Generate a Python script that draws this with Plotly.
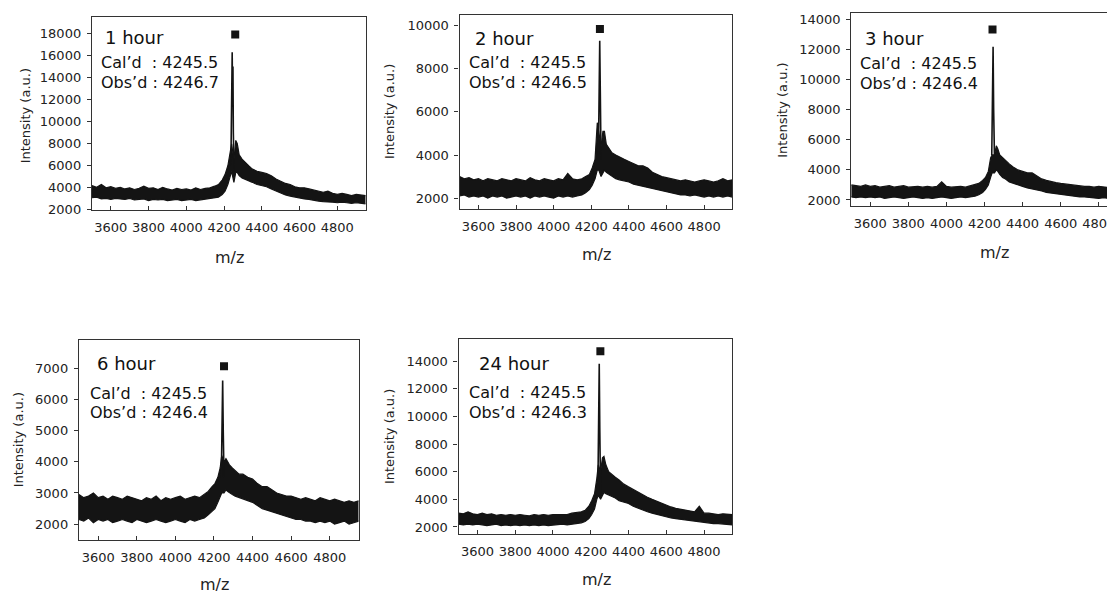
import plotly.graph_objects as go

# ---------------- data ----------------
MZ = [3500, 3525, 3550, 3575, 3600, 3625, 3650, 3675, 3700, 3725, 3750, 3775, 3800, 3825,
      3850, 3875, 3900, 3925, 3950, 3975, 4000, 4025, 4050, 4075, 4100, 4125, 4150, 4170,
      4190, 4205, 4220, 4232, 4240, 4252, 4262, 4270, 4280, 4295, 4310, 4330, 4350, 4375,
      4400, 4425, 4450, 4475, 4500, 4525, 4550, 4575, 4600, 4625, 4650, 4675, 4700, 4725,
      4750, 4775, 4800, 4825, 4850, 4875, 4900, 4925, 4950]

HI_1H = [4200, 4050, 4300, 4000, 4100, 3950, 4050, 3900, 4000, 3850, 3950, 4150, 3950, 4000,
         3850, 4050, 3900, 3800, 3950, 3850, 3900, 3800, 4000, 3850, 3950, 4000, 4150, 4300,
         4700, 5200, 6000, 7200, 8000, 6500, 8300, 8000, 7000, 6600, 6300, 6000, 5700, 5500,
         5400, 5300, 5100, 4800, 4600, 4400, 4300, 4100, 4000, 4000, 3900, 3800, 3700, 3600,
         3700, 3500, 3400, 3500, 3400, 3300, 3400, 3350, 3300]
LO_1H = [3100, 3150, 3000, 3050, 2950, 3050, 3000, 2950, 3050, 2900, 2950, 3000, 2850, 2950,
         2900, 2950, 2850, 2900, 2950, 2850, 2900, 2950, 2850, 2900, 2950, 3000, 3050, 3150,
         3400, 3700, 4300, 5000, 5500, 4500, 5400, 5400, 5100, 4900, 4800, 4700, 4500, 4300,
         4200, 4100, 3900, 3700, 3500, 3350, 3250, 3150, 3050, 3000, 2950, 2850, 2800, 2750,
         2750, 2700, 2650, 2700, 2650, 2600, 2650, 2600, 2550]

HI_2H = [3000, 2900, 2950, 2850, 2900, 2800, 2900, 2850, 2800, 2900, 2850, 2800, 2900, 2850,
         2800, 2950, 2850, 2800, 2900, 2850, 2800, 2900, 2850, 3150, 2900, 2850, 2900, 3000,
         3100, 3400, 3800, 5500, 5000, 4400, 5100, 5100, 4500, 4300, 4100, 4000, 3900, 3800,
         3700, 3600, 3500, 3500, 3400, 3200, 3100, 3000, 2950, 2900, 2850, 2800, 2850, 2800,
         2750, 2800, 2850, 2800, 2750, 2800, 2900, 2800, 2850]
LO_2H = [2100, 2150, 2050, 2100, 2050, 2100, 2000, 2100, 2050, 2100, 2000, 2050, 2100, 2050,
         2100, 2000, 2100, 2050, 2100, 2050, 2000, 2100, 2050, 2100, 2050, 2100, 2150, 2250,
         2400, 2600, 2900, 3300, 3300, 3000, 3200, 3300, 3200, 3100, 3000, 2900, 2850, 2800,
         2750, 2650, 2600, 2550, 2500, 2450, 2400, 2350, 2300, 2250, 2200, 2150, 2150, 2100,
         2150, 2100, 2050, 2100, 2050, 2100, 2050, 2100, 2050]

HI_3H = [3000, 2950, 2900, 3000, 2900, 2950, 2850, 2900, 2950, 2850, 2900, 2950, 2850, 2900,
         2900, 2850, 2900, 2850, 2900, 3200, 2900, 2850, 2900, 2900, 2850, 2950, 3000, 3100,
         3300, 3500, 3900, 4800, 5000, 5000, 5600, 5400, 5000, 4800, 4600, 4400, 4200, 4000,
         3900, 3800, 3800, 3600, 3400, 3300, 3200, 3150, 3100, 3050, 3000, 2950, 2950, 2900,
         2900, 2850, 2900, 2850, 2850, 2800, 2800, 2800, 2800]
LO_3H = [2200, 2150, 2200, 2150, 2200, 2150, 2200, 2100, 2150, 2200, 2150, 2100, 2150, 2200,
         2150, 2100, 2150, 2100, 2150, 2200, 2150, 2100, 2150, 2200, 2150, 2200, 2250, 2350,
         2500, 2700, 3000, 3500, 3800, 3800, 4000, 3900, 3700, 3500, 3400, 3200, 3100, 3000,
         2900, 2800, 2750, 2650, 2600, 2500, 2450, 2400, 2350, 2300, 2300, 2250, 2200, 2200,
         2150, 2150, 2100, 2150, 2100, 2050, 2100, 2050, 2050]

HI_6H = [2950, 2850, 2900, 3000, 2850, 2900, 2800, 2900, 2850, 2800, 2900, 2850, 2800, 2750,
         2850, 2800, 2900, 2750, 2850, 2800, 2850, 2900, 2800, 2850, 2900, 2850, 2950, 3050,
         3200, 3300, 3500, 3800, 4200, 4000, 4100, 4000, 3900, 3800, 3700, 3600, 3600, 3500,
         3450, 3300, 3200, 3200, 3100, 3000, 2950, 2900, 2900, 2850, 2800, 2850, 2800, 2750,
         2850, 2800, 2750, 2800, 2750, 2700, 2750, 2700, 2750]
LO_6H = [2150, 2100, 2200, 2050, 2150, 2100, 2150, 2050, 2100, 2150, 2100, 2050, 2150, 2100,
         2050, 2100, 2150, 2100, 2050, 2100, 2150, 2100, 2050, 2150, 2100, 2150, 2200, 2300,
         2400, 2500, 2700, 2900, 3000, 3000, 3100, 3050, 3000, 2950, 2900, 2850, 2800, 2750,
         2700, 2600, 2500, 2450, 2400, 2350, 2300, 2250, 2200, 2150, 2150, 2100, 2100, 2050,
         2100, 2050, 2100, 2000, 2050, 2100, 2000, 2050, 2100]

HI_24H = [3000, 2950, 3100, 2950, 2900, 3000, 2900, 2950, 2850, 2900, 2850, 2900, 2850, 2900,
          2850, 2800, 2900, 2850, 2900, 2850, 2900, 2900, 2950, 2900, 3000, 3050, 3100, 3200,
          3500, 3900, 4400, 5500, 6500, 6000, 7000, 7100, 6500, 6000, 5800, 5600, 5400, 5100,
          4900, 4700, 4500, 4300, 4150, 4000, 3850, 3700, 3600, 3450, 3350, 3300, 3200, 3150,
          3100, 3500, 3000, 3000, 2950, 2900, 2950, 2900, 2900]
LO_24H = [2200, 2150, 2200, 2150, 2200, 2150, 2100, 2150, 2200, 2100, 2150, 2100, 2150, 2100,
          2150, 2100, 2150, 2100, 2150, 2100, 2150, 2150, 2200, 2150, 2200, 2250, 2300, 2400,
          2600, 2900, 3300, 4000, 4300, 4000, 4300, 4500, 4400, 4300, 4200, 4100, 3900, 3800,
          3700, 3500, 3350, 3200, 3100, 3000, 2900, 2800, 2750, 2650, 2600, 2550, 2500, 2450,
          2400, 2400, 2350, 2300, 2250, 2250, 2200, 2200, 2150]

# sharp main peak of each spectrum
SPIKE_MZ_1H = [4236, 4243, 4245, 4247, 4249, 4253]
SPIKE_I_1H = [6000, 16300, 12000, 15000, 9000, 5500]
SPIKE_MZ = [4238, 4245, 4248, 4252]
SPIKE_I_2H = [4000, 9300, 7000, 3800]
SPIKE_I_3H = [5000, 12200, 8000, 5000]
SPIKE_I_6H = [3500, 6600, 5000, 3500]
SPIKE_I_24H = [5000, 13800, 9000, 4500]

# peak marker (black square) positions
MARK_MZ = [4259, 4246, 4242, 4252, 4251]
MARK_I = [17900, 9850, 13350, 7060, 14700]

LABELS = ["1 hour", "2 hour", "3 hour", "6 hour", "24 hour"]
CALD = ["4245.5", "4245.5", "4245.5", "4245.5", "4245.5"]
OBSD = ["4246.7", "4246.5", "4246.4", "4246.4", "4246.3"]

Y_RANGES = [[2000, 19500], [1500, 10500], [1600, 14450], [1500, 7900], [1500, 15600]]
Y_DTICK = [2000, 2000, 2000, 1000, 2000]
X_RANGES = [[3500, 4950], [3500, 4950], [3500, 4880], [3500, 4950], [3500, 4950]]
X_TICKS = [3600, 3800, 4000, 4200, 4400, 4600, 4800]

# ---------------- layout geometry (screen pixels) ----------------
OFF = 8                      # page body margin of the html page
W, H = 1115 - OFF, 601 - OFF
BOXES = [(92, 366, 16, 212), (460, 733, 14, 211), (852, 1115, 12, 208),
         (79, 359, 344, 547), (459, 733, 343, 541)]
TXT = [  # (title_x, title_y, info_x, cal_y, obs_y)
    (103, 37, 99, 62, 83),
    (473, 38, 467, 62, 83),
    (864, 38, 859, 63, 84),
    (95, 368, 88, 398, 418),
    (477, 368, 467, 397, 418),
]
YT_POS = [(25, 116), (390, 112), (783, 111), (18, 445), (390, 442)]
XT_POS = [(230, 260), (597, 257), (995, 255), (215, 592), (597, 587)]

FONT = "DejaVu Sans, Arial, sans-serif"
INK = "#141414"
AX = "#333333"

HIS = [HI_1H, HI_2H, HI_3H, HI_6H, HI_24H]
LOS = [LO_1H, LO_2H, LO_3H, LO_6H, LO_24H]
SPX = [SPIKE_MZ_1H, SPIKE_MZ, SPIKE_MZ, SPIKE_MZ, SPIKE_MZ]
SPY = [SPIKE_I_1H, SPIKE_I_2H, SPIKE_I_3H, SPIKE_I_6H, SPIKE_I_24H]

fig = go.Figure()
annotations = []
layout = {}

def px(x):
    return min(max((x - OFF) / W, 0.0), 1.0)

def py(y):
    return min(max(1 - (y - OFF) / H, 0.0), 1.0)

for i in range(5):
    n = "" if i == 0 else str(i + 1)
    xa, ya = "x" + n, "y" + n
    x0, x1, y0, y1 = BOXES[i]
    fig.add_trace(go.Scatter(x=MZ, y=LOS[i], mode="lines", xaxis=xa, yaxis=ya,
                             line=dict(color=INK, width=1.2), showlegend=False,
                             hoverinfo="skip"))
    fig.add_trace(go.Scatter(x=MZ, y=HIS[i], mode="lines", xaxis=xa, yaxis=ya,
                             line=dict(color=INK, width=1.2), fill="tonexty",
                             fillcolor=INK, showlegend=False, hoverinfo="skip"))
    fig.add_trace(go.Scatter(x=SPX[i], y=SPY[i], mode="lines", xaxis=xa, yaxis=ya,
                             line=dict(color=INK, width=1.6), showlegend=False))
    fig.add_trace(go.Scatter(x=[MARK_MZ[i]], y=[MARK_I[i]], mode="markers",
                             xaxis=xa, yaxis=ya, showlegend=False,
                             marker=dict(symbol="square", size=8, color=INK)))
    layout["xaxis" + n] = dict(
        domain=[px(x0), px(x1)], range=X_RANGES[i], anchor=ya,
        tickvals=X_TICKS, ticks="inside", ticklen=4, tickwidth=1, tickcolor=AX,
        showline=True, linecolor=AX, linewidth=1.3, mirror=True,
        showgrid=False, zeroline=False, ticklabelstandoff=5,
        ticklabeloverflow="allow",
        tickfont=dict(family=FONT, size=13, color="#222"))
    layout["yaxis" + n] = dict(
        domain=[py(y1), py(y0)], range=Y_RANGES[i], anchor=xa,
        dtick=Y_DTICK[i], tick0=0, tickformat="d", ticks="outside", ticklen=4,
        tickwidth=1, tickcolor=AX,
        showline=True, linecolor=AX, linewidth=1.3, mirror=(i != 2),
        showgrid=False, zeroline=False, ticklabelstandoff=3,
        tickfont=dict(family=FONT, size=13, color="#222"))
    tx, ty, ix, cy, oy = TXT[i]
    annotations.append(dict(x=px(tx), y=py(ty), xref="paper", yref="paper",
                            text=LABELS[i], showarrow=False, xanchor="left", yanchor="middle",
                            font=dict(family=FONT, size=18, color="#111")))
    annotations.append(dict(x=px(ix), y=py(cy), xref="paper", yref="paper",
                            text="Cal’d\u00a0\u00a0: " + CALD[i], showarrow=False,
                            xanchor="left", yanchor="middle",
                            font=dict(family=FONT, size=16, color="#111")))
    annotations.append(dict(x=px(ix), y=py(oy), xref="paper", yref="paper",
                            text="Obs’d : " + OBSD[i], showarrow=False,
                            xanchor="left", yanchor="middle",
                            font=dict(family=FONT, size=16, color="#111")))
    ax_, ay_ = YT_POS[i]
    annotations.append(dict(x=px(ax_), y=py(ay_), xref="paper", yref="paper",
                            text="Intensity (a.u.)", showarrow=False, textangle=-90,
                            xanchor="center", yanchor="middle",
                            font=dict(family=FONT, size=13, color="#222")))
    mx, my = XT_POS[i]
    annotations.append(dict(x=px(mx), y=py(my), xref="paper", yref="paper",
                            text="m/z", showarrow=False, xanchor="center", yanchor="middle",
                            font=dict(family=FONT, size=16, color="#222")))

fig.update_layout(width=W, height=H, margin=dict(l=0, r=0, t=0, b=0),
                  paper_bgcolor="white", plot_bgcolor="white",
                  annotations=annotations, showlegend=False, **layout)

fig.write_html("out.html")
